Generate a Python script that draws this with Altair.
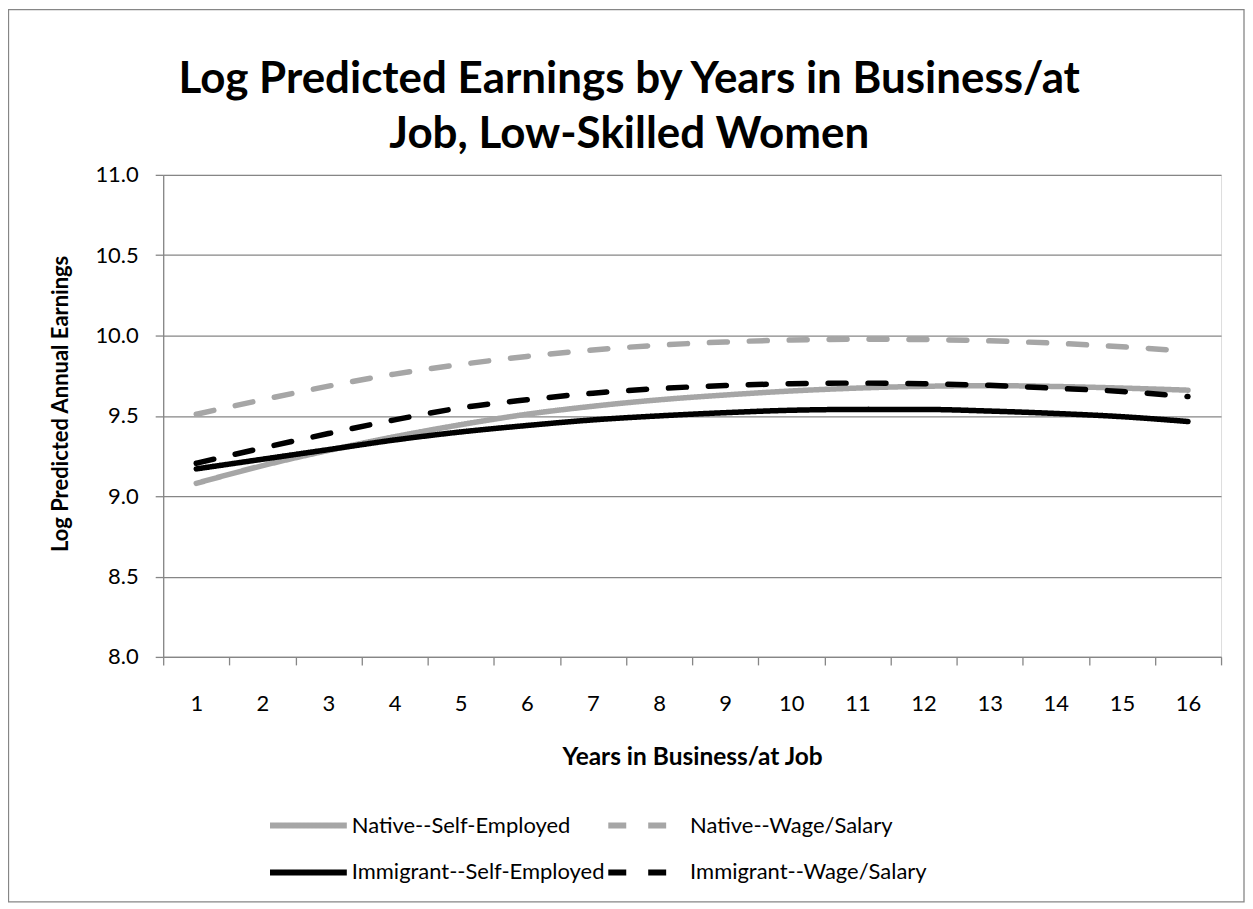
import altair as alt
import pandas as pd

years = list(range(1, 17))
series_names = [
    "Native--Self-Employed",
    "Native--Wage/Salary",
    "Immigrant--Self-Employed",
    "Immigrant--Wage/Salary",
]
native_se = [9.08, 9.19, 9.285, 9.37, 9.445, 9.51, 9.56, 9.60, 9.63, 9.655, 9.673, 9.684, 9.688, 9.683, 9.673, 9.66]
native_ws = [9.51, 9.60, 9.685, 9.76, 9.82, 9.87, 9.91, 9.94, 9.96, 9.972, 9.977, 9.975, 9.967, 9.952, 9.93, 9.903]
immigrant_se = [9.17, 9.23, 9.29, 9.35, 9.40, 9.44, 9.475, 9.50, 9.52, 9.535, 9.54, 9.54, 9.53, 9.515, 9.495, 9.465]
immigrant_ws = [9.205, 9.30, 9.39, 9.475, 9.55, 9.60, 9.641, 9.67, 9.689, 9.70, 9.704, 9.70, 9.69, 9.672, 9.652, 9.62]
y_ticks = [8.0, 8.5, 9.0, 9.5, 10.0, 10.5, 11.0]

rows = []
for name, vals in zip(series_names, [native_se, native_ws, immigrant_se, immigrant_ws]):
    for yr, v in zip(years, vals):
        rows.append({"year": yr, "value": v, "series": name})
df = pd.DataFrame(rows)

GRID = "#868686"
FONT = "Lato"
W, H = 1060, 483

legend = alt.Legend(
    title=None, orient="none", legendX=104, legendY=639, columns=2, direction="horizontal",
    symbolType="stroke", symbolSize=5929, symbolStrokeWidth=6,
    labelFont=FONT, labelFontSize=22, labelColor="black", labelOffset=2,
    columnPadding=-6, rowPadding=21, clipHeight=26, labelLimit=400,
)

color = alt.Color("series:N", scale=alt.Scale(domain=series_names,
                  range=["#A6A6A6", "#A6A6A6", "#000000", "#000000"]), legend=legend)
dash = alt.StrokeDash("series:N", scale=alt.Scale(domain=series_names,
                      range=[[1, 0], [18, 22], [1, 0], [18, 22]]), legend=legend)

x = alt.X("year:O", scale=alt.Scale(type="band", paddingInner=0, paddingOuter=0),
          bandPosition=0.5,
          axis=alt.Axis(title="Years in Business/at Job", labelAngle=0, tickBand="extent",
                        tickSize=8, tickColor=GRID, domainColor=GRID, domainWidth=1.3,
                        tickWidth=1.3, labelPadding=29, labelFont=FONT, labelFontSize=22,
                        labelColor="black", titleFont=FONT, titleFontSize=24.5,
                        titleFontWeight="bold", titlePadding=31, titleColor="black",
                        grid=False))
y = alt.Y("value:Q", scale=alt.Scale(domain=[8, 11], nice=False, zero=False),
          axis=alt.Axis(title="Log Predicted Annual Earnings", values=y_ticks, format=".1f",
                        tickSize=8, tickColor=GRID, tickWidth=1.3, domainColor=GRID,
                        domainWidth=1.3, gridColor=GRID, gridWidth=1.3, labelPadding=17,
                        labelFont=FONT, labelFontSize=22, labelColor="black",
                        titleFont=FONT, titleFontSize=22, titleFontWeight="bold",
                        titleColor="black", titlePadding=22, titleY=229))

base = alt.Chart(df).mark_line(strokeWidth=5.5, strokeCap="round", interpolate="monotone").encode(
    x=x, y=y, color=color, strokeDash=dash)

native = base.transform_filter(alt.FieldOneOfPredicate(field="series", oneOf=series_names[:2]))
immig = base.transform_filter(alt.FieldOneOfPredicate(field="series", oneOf=series_names[2:]))

frame = alt.Chart(alt.Data(values=[{"k": 1}])).mark_rect(
    fill=None, stroke=GRID, strokeWidth=1.3).encode(
    x=alt.value(-155), x2=alt.value(1083), y=alt.value(-165.5), y2=alt.value(728.5))

chart = alt.layer(frame, native, immig).properties(
    width=W, height=H,
    title=alt.Title(["Log Predicted Earnings by Years in Business/at", "Job, Low-Skilled Women"],
                    font=FONT, fontSize=44, fontWeight="bold", color="black",
                    anchor="middle", lineHeight=55, offset=0, dx=-63, dy=148),
    padding={"left": 155.5, "top": 166.3, "right": 24, "bottom": 248},
    autosize=alt.AutoSizeParams(type="none"),
).configure_view(stroke=None).configure(background="white")

chart.save("out.html", embed_options={"renderer": "svg", "actions": False})
